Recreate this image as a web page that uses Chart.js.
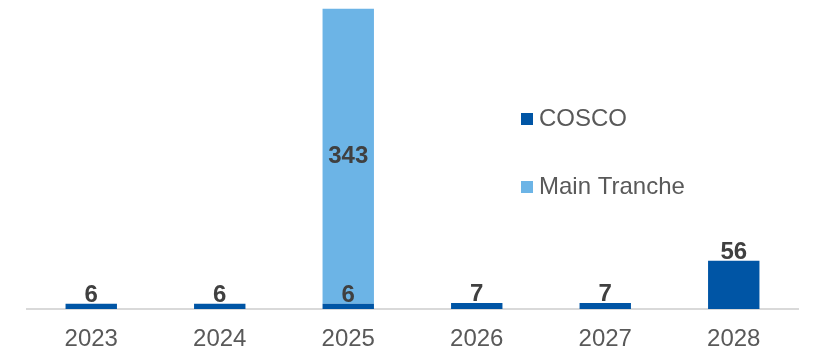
<!DOCTYPE html>
<html>
<head>
<meta charset="utf-8">
<script src="https://cdn.jsdelivr.net/npm/chart.js@4/dist/chart.umd.min.js"></script>
<style>
  html, body { margin: 0; padding: 0; background: #ffffff; }
  #wrap { width: 818px; height: 351px; }
</style>
</head>
<body>
<div id="wrap"><canvas id="chart" width="818" height="351"></canvas></div>
<script>
// Yearly amounts, stacked per year
const years = ["2023", "2024", "2025", "2026", "2027", "2028"];
const cosco = [6, 6, 6, 7, 7, 56];
const mainTranche = [null, null, 343, null, null, null];

const seriesNames = ["COSCO", "Main Tranche"];
const seriesColors = ["#0055A5", "#6CB4E6"];

const FONT = "'Liberation Sans', Arial, sans-serif";

// value labels: on top of the small bars, centred inside the tall one
const valueLabels = {
  id: "valueLabels",
  afterDatasetsDraw(chart) {
    const ctx = chart.ctx;
    ctx.save();
    ctx.font = "bold 24px " + FONT;
    ctx.fillStyle = "#404040";
    ctx.textAlign = "center";
    chart.data.datasets.forEach((ds, di) => {
      const meta = chart.getDatasetMeta(di);
      meta.data.forEach((bar, i) => {
        const v = ds.data[i];
        if (v == null) return;
        if (ds.labelInside) {
          ctx.textBaseline = "middle";
          ctx.fillText(String(v), bar.x, (bar.y + bar.base) / 2);
        } else {
          ctx.textBaseline = "alphabetic";
          ctx.fillText(String(v), bar.x, bar.y - 2);
        }
      });
    });
    ctx.restore();
  }
};

// legend stacked at the right side of the plot
const sideLegend = {
  id: "sideLegend",
  afterDraw(chart) {
    const ctx = chart.ctx;
    ctx.save();
    ctx.font = "24px " + FONT;
    ctx.textBaseline = "middle";
    ctx.textAlign = "left";
    const x = 521, rows = [119, 187];
    chart.data.datasets.forEach((ds, i) => {
      ctx.fillStyle = ds.backgroundColor;
      ctx.fillRect(x, rows[i] - 6, 12, 12);
      ctx.fillStyle = "#595959";
      ctx.fillText(ds.label, x + 18, rows[i]);
    });
    ctx.restore();
  }
};

new Chart(document.getElementById("chart"), {
  type: "bar",
  data: {
    labels: years,
    datasets: [
      { label: seriesNames[0], data: cosco, backgroundColor: seriesColors[0], labelInside: false },
      { label: seriesNames[1], data: mainTranche, backgroundColor: seriesColors[1], labelInside: true }
    ]
  },
  options: {
    responsive: false,
    animation: false,
    devicePixelRatio: 1,
    layout: { padding: { left: 27, right: 20, top: 8, bottom: 0 } },
    datasets: { bar: { categoryPercentage: 1, barPercentage: 0.4 } },
    scales: {
      x: {
        stacked: true,
        grid: { display: false, drawTicks: false },
        border: { display: true, color: "#D9D9D9", width: 2 },
        ticks: { color: "#595959", font: { family: FONT, size: 24 }, padding: 16 },
        afterFit: (scale) => { scale.height = 42; }
      },
      y: {
        stacked: true,
        display: false,
        min: 0,
        max: 350
      }
    },
    plugins: {
      legend: { display: false },
      tooltip: { enabled: false }
    }
  },
  plugins: [valueLabels, sideLegend]
});
</script>
</body>
</html>
